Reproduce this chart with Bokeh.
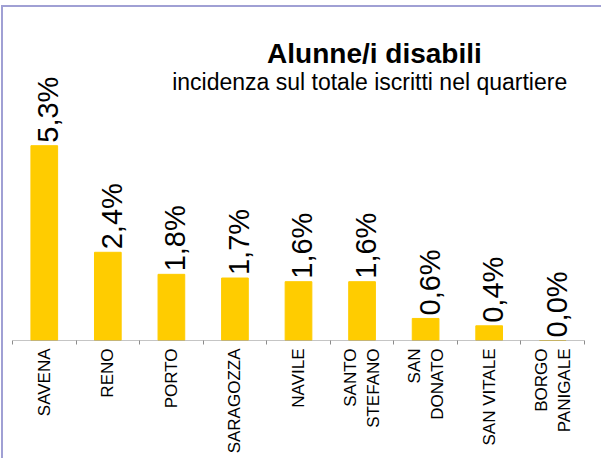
import math
from bokeh.plotting import figure
from bokeh.models import Range1d, FixedTicker, ColumnDataSource, LabelSet
from bokeh.core.properties import value
from bokeh.embed import file_html
from bokeh.resources import INLINE

categories = ["SAVENA", "RENO", "PORTO", "SARAGOZZA", "NAVILE",
              "SANTO\nSTEFANO", "SAN\nDONATO", "SAN VITALE", "BORGO\nPANIGALE"]
values = [5.3, 2.4, 1.8, 1.7, 1.6, 1.6, 0.6, 0.4, 0.0]
value_labels = ["5,3%", "2,4%", "1,8%", "1,7%", "1,6%", "1,6%", "0,6%", "0,4%", "0,0%"]
title_text = "Alunne/i disabili"
subtitle_text = "incidenza sul totale iscritti nel quartiere"

FONT = "Liberation Sans"
n = len(categories)
centers = [i + 0.5 for i in range(n)]

p = figure(width=600, height=453, output_backend="svg", toolbar_location=None,
           x_range=Range1d(0, n), y_range=Range1d(0, 9.06),
           y_axis_location=None, min_border_left=9, min_border_right=19,
           min_border_top=0, min_border_bottom=120,
           styles={"border-left": "2px solid #a0a0d4",
                   "border-top": "2px solid #a0a0d4",
                   "margin-top": "5px", "margin-left": "1px"})
p.outline_line_color = None
p.xgrid.visible = False
p.ygrid.visible = False
p.background_fill_color = "white"
p.border_fill_color = "white"

src = ColumnDataSource(dict(x=centers, top=values, lab=value_labels))
p.vbar(x="x", top="top", width=0.42, bottom=0, source=src,
       fill_color="#FFCC00", line_color="#FFCC00")

# baseline of category axis
p.segment(x0=[0], y0=[0], x1=[n], y1=[0], line_color="#8c8c8c", line_width=1)

labels = LabelSet(x="x", y="top", text="lab", source=src, angle=math.pi / 2,
                  text_align="left", text_baseline="alphabetic",
                  x_offset=14, y_offset=3, text_font=value(FONT),
                  text_font_size=value("29px"), text_color="black")
p.add_layout(labels)

ax = p.xaxis[0]
ax.ticker = FixedTicker(ticks=centers, minor_ticks=list(range(n + 1)))
ax.major_label_overrides = {c: lab for c, lab in zip(centers, categories)}
ax.major_label_orientation = math.pi / 2
ax.major_tick_out = 0
ax.major_tick_in = 0
ax.minor_tick_out = 4
ax.minor_tick_in = 0
ax.minor_tick_line_color = "#8c8c8c"
ax.axis_line_color = None
ax.major_label_standoff = 4
ax.major_label_text_font = FONT
ax.major_label_text_font_size = "17px"
ax.major_label_text_color = "black"

# titles
p.text(x=[5.695], y=[7.81], text=[title_text], text_font=value(FONT),
       text_font_size="28px", text_font_style="bold", text_align="center",
       text_baseline="alphabetic", text_color="black")
p.text(x=[5.62], y=[7.03], text=[subtitle_text], text_font=value(FONT),
       text_font_size="23px", text_align="center",
       text_baseline="alphabetic", text_color="black")

open("out.html", "w").write(file_html(p, INLINE))
